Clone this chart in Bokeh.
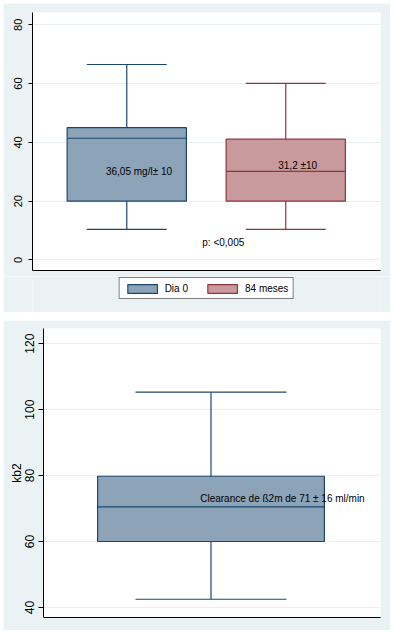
from bokeh.plotting import figure
from bokeh.models import Range1d, Legend, LegendItem, FixedTicker
from bokeh.layouts import column
from bokeh.core.properties import value
from bokeh.embed import file_html
from bokeh.resources import INLINE

# ---------------- Data: panel 1 (two groups) ----------------
groups = ["Dia 0", "84 meses"]
lower_whisker = [10.4, 10.4]
q1 = [20.0, 20.0]
median = [41.4, 30.1]
q3 = [45.0, 41.1]
upper_whisker = [66.5, 60.1]
y1_ticks = [0, 20, 40, 60, 80]
annot1_text = ["36,05 mg/l\u00b1 10", "31,2 \u00b110", "p: <0,005"]

# ---------------- Data: panel 2 (kb2) ----------------
kb2_lower = [42.5]
kb2_q1 = [60.0]
kb2_median = [70.5]
kb2_q3 = [79.8]
kb2_upper = [105.3]
y2_ticks = [40, 60, 80, 100, 120]
annot2_text = ["Clearance de \u00df2m de 71 \u00b1 16 ml/min"]

# ---------------- Styles / positions ----------------
FONT = "Liberation Sans"
BG = "#EAF2F3"
GRID = "#E6EEF0"
fills = ["#8CA3B8", "#C89A9D"]
lines = ["#1A476F", "#90353B"]
pos1 = [1.0, 2.0]
box_w1 = 0.75
cap_w1 = 0.503
annot1_x = [1.077, 2.075, 1.607]
annot1_y = [30.1, 32.0, 5.8]

pos2 = [0.497]
box_w2 = 0.673
cap_w2 = 0.448
annot2_x = [0.709]
annot2_y = [73.0]


def style(p, ticks, fs):
    p.background_fill_color = "white"
    p.border_fill_color = BG
    p.outline_line_color = None
    p.xgrid.grid_line_color = None
    p.ygrid.grid_line_color = GRID
    p.ygrid.grid_line_width = 1
    p.yaxis.ticker = FixedTicker(ticks=ticks)
    p.yaxis.axis_line_color = "black"
    p.yaxis.major_tick_line_color = "black"
    p.yaxis.major_tick_out = 4
    p.yaxis.major_tick_in = 0
    p.yaxis.minor_tick_line_color = None
    p.yaxis.major_label_orientation = "vertical"
    p.yaxis.major_label_text_font = FONT
    p.yaxis.major_label_text_font_size = fs
    p.yaxis.major_label_text_color = "black"
    p.yaxis.major_label_standoff = 6
    p.xaxis.ticker = FixedTicker(ticks=[])
    p.xaxis.major_label_text_font_size = "0px"
    p.xaxis.major_tick_line_color = None
    p.xaxis.minor_tick_line_color = None
    p.xaxis.major_label_standoff = 0
    p.xaxis.axis_line_color = "black"


# ---------------- Panel 1 ----------------
p1 = figure(width=387, height=273, output_backend="svg", toolbar_location=None,
            x_range=Range1d(0.407, 2.596), y_range=Range1d(-3.6, 84.2),
            min_border_left=29, min_border_right=10, min_border_top=9,
            min_border_bottom=6)
style(p1, y1_ticks, "11px")

for i in range(len(groups)):
    x = pos1[i]
    p1.vbar(x=[x], width=box_w1, bottom=[q1[i]], top=[q3[i]],
            fill_color=fills[i], line_color=lines[i], line_width=1.2)
    p1.segment(x0=[x - box_w1 / 2], x1=[x + box_w1 / 2], y0=[median[i]], y1=[median[i]],
               line_color=lines[i], line_width=1.2)
    p1.segment(x0=[x, x], x1=[x, x], y0=[q3[i], q1[i]], y1=[upper_whisker[i], lower_whisker[i]],
               line_color=lines[i], line_width=1.2)
    p1.segment(x0=[x - cap_w1 / 2, x - cap_w1 / 2], x1=[x + cap_w1 / 2, x + cap_w1 / 2],
               y0=[upper_whisker[i], lower_whisker[i]], y1=[upper_whisker[i], lower_whisker[i]],
               line_color=lines[i], line_width=1.2)

p1.text(x=annot1_x, y=annot1_y, text=annot1_text, text_font=value(FONT),
        text_font_size="10px", text_align="center", text_baseline="middle",
        text_color="black")

# ---------------- Legend strip under panel 1 ----------------
leg = figure(width=387, height=36, output_backend="svg", toolbar_location=None,
             x_range=Range1d(0, 1), y_range=Range1d(0, 1),
             x_axis_type=None, y_axis_type=None,
             min_border_left=29, min_border_right=10, min_border_top=0,
             min_border_bottom=0)
leg.background_fill_color = BG
leg.border_fill_color = BG
leg.outline_line_color = None
leg.xgrid.visible = False
leg.ygrid.visible = False
swatches = []
for i in range(len(groups)):
    # off-screen bar, only used to give the legend its swatch style
    swatches.append(leg.vbar(x=[-10.0], width=0.1, top=[-10.0], bottom=[-11.0],
                             fill_color=fills[i], line_color=lines[i], line_width=1.2))
legend = Legend(items=[LegendItem(label=groups[i], renderers=[swatches[i]])
                       for i in range(len(groups))],
                orientation="horizontal", location="top_center",
                glyph_width=37, glyph_height=11, label_height=12,
                label_text_font=FONT, label_text_font_size="10px",
                label_text_color="black", padding=4, spacing=16,
                label_standoff=4, border_line_color="black", border_line_width=1,
                background_fill_color="white", background_fill_alpha=1.0,
                margin=1)
leg.add_layout(legend, "center")

# ---------------- Panel 2 ----------------
p2 = figure(width=387, height=310, output_backend="svg", toolbar_location=None,
            x_range=Range1d(0, 1), y_range=Range1d(36.96, 124.6),
            min_border_left=40, min_border_right=10, min_border_top=8,
            min_border_bottom=13)
style(p2, y2_ticks, "12px")
p2.yaxis.major_tick_out = 5
p2.yaxis.major_label_standoff = 4
p2.yaxis.axis_label = "kb2"
p2.yaxis.axis_label_text_font = FONT
p2.yaxis.axis_label_text_font_size = "12px"
p2.yaxis.axis_label_text_font_style = "normal"
p2.yaxis.axis_label_text_color = "black"
p2.yaxis.axis_label_standoff = -1

x = pos2[0]
p2.vbar(x=[x], width=box_w2, bottom=kb2_q1, top=kb2_q3,
        fill_color=fills[0], line_color=lines[0], line_width=1.2)
p2.segment(x0=[x - box_w2 / 2], x1=[x + box_w2 / 2], y0=kb2_median, y1=kb2_median,
           line_color=lines[0], line_width=1.2)
p2.segment(x0=[x, x], x1=[x, x], y0=[kb2_q3[0], kb2_q1[0]], y1=[kb2_upper[0], kb2_lower[0]],
           line_color=lines[0], line_width=1.2)
p2.segment(x0=[x - cap_w2 / 2] * 2, x1=[x + cap_w2 / 2] * 2,
           y0=[kb2_upper[0], kb2_lower[0]], y1=[kb2_upper[0], kb2_lower[0]],
           line_color=lines[0], line_width=1.2)
p2.text(x=annot2_x, y=annot2_y, text=annot2_text, text_font=value(FONT),
        text_font_size="10px", text_align="center", text_baseline="middle",
        text_color="black")

layout = column(column(p1, leg, spacing=0), p2, spacing=8, margin=(3, 0, 0, 3))
open("out.html", "w").write(file_html(layout, INLINE))
